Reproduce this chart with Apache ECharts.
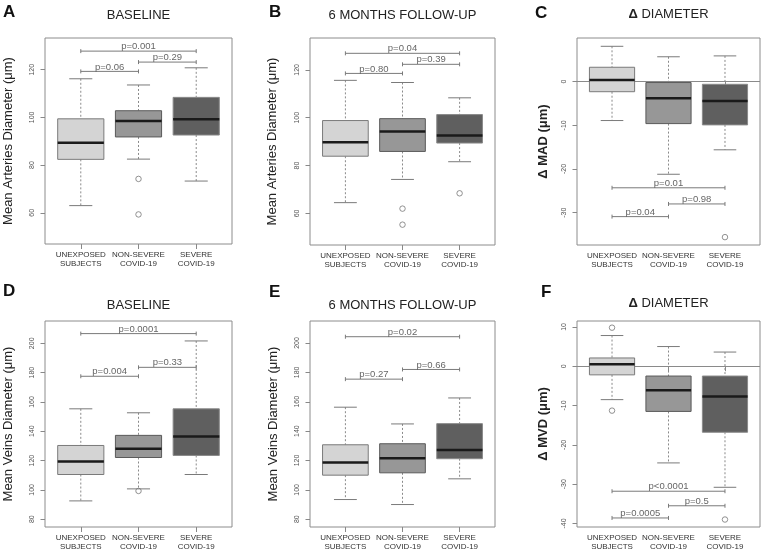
<!DOCTYPE html>
<html>
<head>
<meta charset="utf-8">
<script src="https://cdn.jsdelivr.net/npm/echarts@6/dist/echarts.min.js"></script>
<style>html,body{margin:0;padding:0;background:#fff;}#c{width:765px;height:557px;}</style>
</head>
<body>
<div id="c"></div>
<script>
// ---------- data ----------
const categories = ['UNEXPOSED\nSUBJECTS', 'NON-SEVERE\nCOVID-19', 'SEVERE\nCOVID-19'];
const panelLetters = ['A', 'B', 'C', 'D', 'E', 'F'];
const panelTitles = ['BASELINE', '6 MONTHS FOLLOW-UP', '{d|Δ} DIAMETER', 'BASELINE', '6 MONTHS FOLLOW-UP', '{d|Δ} DIAMETER'];
const yNames = ['Mean Arteries Diameter (μm)', 'Mean Arteries Diameter (μm)', 'Δ MAD (μm)',
                'Mean Veins Diameter (μm)', 'Mean Veins Diameter (μm)', 'Δ MVD (μm)'];

// box stats: [group, lower whisker, Q1, median, Q3, upper whisker]
const boxA = [[1, 63.0, 82.4, 89.4, 99.4, 116.2], [2, 82.5, 91.8, 98.5, 102.8, 113.6], [3, 73.3, 92.6, 99.2, 108.4, 120.8]];
const boxB = [[1, 64.5, 83.9, 89.7, 98.8, 115.6], [2, 74.2, 85.9, 94.2, 99.6, 114.7], [3, 81.6, 89.4, 92.6, 101.3, 108.3]];
const boxC = [[1, -8.9, -2.3, 0.4, 3.3, 8.1], [2, -21.2, -9.6, -3.8, -0.2, 5.7], [3, -15.6, -9.9, -4.4, -0.6, 5.9]];
const boxD = [[1, 92.5, 110.5, 119.4, 130.3, 155.3], [2, 100.7, 122.1, 128.0, 137.2, 152.6], [3, 110.5, 123.5, 136.5, 155.3, 201.6]];
const boxE = [[1, 93.4, 110.0, 118.7, 130.7, 156.3], [2, 90.0, 111.6, 121.5, 131.4, 144.9], [3, 107.5, 121.2, 127.1, 145.1, 162.6]];
const boxF = [[1, -8.5, -2.2, 0.5, 2.1, 7.8], [2, -24.6, -11.5, -6.1, -2.5, 5.0], [3, -30.8, -16.8, -7.7, -2.5, 3.6]];

// outliers: [group, value]
const outA = [[2, 74.2], [2, 59.3]];
const outB = [[2, 62.0], [2, 55.3], [3, 68.4]];
const outC = [[3, -35.6]];
const outD = [[2, 99.3]];
const outE = [];
const outF = [[1, 9.8], [1, -11.3], [3, -39.0]];

// p-value brackets: [from group, to group, height]
const brA = [[1, 3, 127.8], [2, 3, 123.2], [1, 2, 119.3]];
const brB = [[1, 3, 126.9], [2, 3, 122.3], [1, 2, 118.5]];
const brC = [[1, 3, -24.3], [2, 3, -28.0], [1, 2, -30.9]];
const brD = [[1, 3, 206.6], [2, 3, 183.6], [1, 2, 177.5]];
const brE = [[1, 3, 204.3], [2, 3, 182.0], [1, 2, 175.4]];
const brF = [[1, 3, -31.8], [2, 3, -35.5], [1, 2, -38.6]];
const pLabA = ['p=0.001', 'p=0.29', 'p=0.06'];
const pLabB = ['p=0.04', 'p=0.39', 'p=0.80'];
const pLabC = ['p=0.01', 'p=0.98', 'p=0.04'];
const pLabD = ['p=0.0001', 'p=0.33', 'p=0.004'];
const pLabE = ['p=0.02', 'p=0.66', 'p=0.27'];
const pLabF = ['p<0.0001', 'p=0.5', 'p=0.0005'];

// y axis ranges and ticks
const yRanges = [[46.9, 133.3], [46.8, 133.3], [-37.4, 10.0], [74.7, 215.2], [74.7, 215.0], [-40.9, 11.5]];
const yTicksA = [60, 80, 100, 120];
const yTicksC = [-30, -20, -10, 0];
const yTicksD = [80, 100, 120, 140, 160, 180, 200];
const yTicksF = [-40, -30, -20, -10, 0, 10];
const xTicks = [1, 2, 3];

// ---------- layout / style ----------
const boxes = [boxA, boxB, boxC, boxD, boxE, boxF];
const outs = [outA, outB, outC, outD, outE, outF];
const brs = [brA, brB, brC, brD, brE, brF];
const pLabs = [pLabA, pLabB, pLabC, pLabD, pLabE, pLabF];
const yTicks = [yTicksA, yTicksA, yTicksC, yTicksD, yTicksD, yTicksF];
const zeroLine = [false, false, true, false, false, true];

const gridPos = [
  {left: 45, top: 38, width: 187, height: 206},
  {left: 310, top: 38, width: 185, height: 207},
  {left: 577, top: 38, width: 183, height: 207},
  {left: 45, top: 321, width: 187, height: 206},
  {left: 310, top: 321, width: 185, height: 206},
  {left: 577, top: 321, width: 183, height: 206}
];
const letterPos = [[3, 12], [269, 12], [535, 13], [3, 291], [269, 292], [541, 292]];
const titleY = [15, 15, 14, 305, 305.5, 303];
const nameGaps = [30, 31, 27, 30, 30, 27];

const FONT = '"Liberation Sans", Arial, Helvetica, sans-serif';
const boxFills = ['#d4d4d4', '#979797', '#5f5f5f'];
const boxBorders = ['#7a7a7a', '#5a5a5a', '#8a8a8a'];
const whiskerColor = '#8a8a8a';
const capColor = '#7a7a7a';
const frameColor = '#8c8c8c';

function makeBoxRender() {
  return function (params, api) {
    const x = api.value(0);
    const lo = api.value(1), q1 = api.value(2), md = api.value(3), q3 = api.value(4), hi = api.value(5);
    const P = (a, b) => api.coord([a, b]);
    const a = P(x, hi), b = P(x, q3), c = P(x, q1), d = P(x, lo);
    const l = P(x - 0.4, q3), r = P(x + 0.4, q1);
    const cl = P(x - 0.2, hi)[0], cr = P(x + 0.2, hi)[0];
    const ml = P(x - 0.4, md), mr = P(x + 0.4, md);
    const dash = {stroke: whiskerColor, lineWidth: 1, lineDash: [2, 2]};
    const cap = {stroke: capColor, lineWidth: 1};
    return {
      type: 'group',
      children: [
        {type: 'line', shape: {x1: a[0], y1: a[1], x2: b[0], y2: b[1]}, style: dash},
        {type: 'line', shape: {x1: c[0], y1: c[1], x2: d[0], y2: d[1]}, style: dash},
        {type: 'line', shape: {x1: cl, y1: a[1], x2: cr, y2: a[1]}, style: cap},
        {type: 'line', shape: {x1: cl, y1: d[1], x2: cr, y2: d[1]}, style: cap},
        {type: 'rect', shape: {x: l[0], y: l[1], width: r[0] - l[0], height: r[1] - l[1]},
          style: {fill: boxFills[x - 1], stroke: boxBorders[x - 1], lineWidth: 1}},
        {type: 'line', shape: {x1: ml[0], y1: ml[1], x2: mr[0], y2: mr[1]}, style: {stroke: '#1a1a1a', lineWidth: 2.5}}
      ]
    };
  };
}

function makeBracketRender(labels) {
  return function (params, api) {
    const x1 = api.value(0), x2 = api.value(1), y = api.value(2);
    const p1 = api.coord([x1, y]), p2 = api.coord([x2, y]);
    const st = {stroke: '#7a7a7a', lineWidth: 1};
    return {
      type: 'group',
      children: [
        {type: 'line', shape: {x1: p1[0], y1: p1[1], x2: p2[0], y2: p2[1]}, style: st},
        {type: 'line', shape: {x1: p1[0], y1: p1[1] - 2, x2: p1[0], y2: p1[1] + 2}, style: st},
        {type: 'line', shape: {x1: p2[0], y1: p2[1] - 2, x2: p2[0], y2: p2[1] + 2}, style: st},
        {type: 'text', style: {text: labels[params.dataIndex], x: (p1[0] + p2[0]) / 2, y: p1[1] - 4.5,
          fill: '#666', font: '9.5px ' + FONT, align: 'center', verticalAlign: 'middle',
          textAlign: 'center', textVerticalAlign: 'middle'}}
      ]
    };
  };
}

const grid = [], xAxis = [], yAxis = [], series = [], graphic = [];
for (let i = 0; i < 6; i++) {
  grid.push(Object.assign({show: true, borderColor: frameColor, borderWidth: 1, backgroundColor: 'transparent'}, gridPos[i]));
  xAxis.push({
    gridIndex: i, type: 'value', min: 0.38, max: 3.62,
    axisLine: {show: false}, splitLine: {show: false},
    axisTick: {show: true, customValues: xTicks, length: 5, lineStyle: {color: '#888'}},
    axisLabel: {customValues: xTicks, formatter: v => categories[Math.round(v) - 1] || '',
      fontSize: 8, lineHeight: 9.5, color: '#333', margin: 6, fontFamily: FONT}
  });
  yAxis.push({
    gridIndex: i, type: 'value', min: yRanges[i][0], max: yRanges[i][1],
    axisLine: {show: false}, splitLine: {show: false},
    axisTick: {show: true, customValues: yTicks[i], length: 4.5, lineStyle: {color: '#888'}},
    axisLabel: {customValues: yTicks[i], rotate: 90, fontSize: 7, color: '#555', margin: 9, fontFamily: FONT},
    name: yNames[i], nameLocation: 'middle', nameRotate: 90, nameGap: nameGaps[i],
    nameTextStyle: {fontSize: 13, color: '#222', fontFamily: FONT, fontWeight: (i === 2 || i === 5) ? 'bold' : 'normal'}
  });
  series.push({
    type: 'scatter', xAxisIndex: i, yAxisIndex: i, data: outs[i], symbol: 'circle', symbolSize: 5.5,
    itemStyle: {color: 'rgba(0,0,0,0)', borderColor: '#777', borderWidth: 1}, z: 1, silent: true,
    markLine: zeroLine[i] ? {silent: true, symbol: 'none', label: {show: false},
      lineStyle: {color: '#8a8a8a', type: 'solid', width: 1}, data: [{yAxis: 0}], z: 0} : undefined
  });
  series.push({
    type: 'custom', xAxisIndex: i, yAxisIndex: i, data: boxes[i], renderItem: makeBoxRender(),
    encode: {x: 0, y: [1, 2, 3, 4, 5]}, z: 2, silent: true
  });
  series.push({
    type: 'custom', xAxisIndex: i, yAxisIndex: i, data: brs[i], renderItem: makeBracketRender(pLabs[i]),
    encode: {x: [0, 1], y: 2}, z: 3, silent: true
  });
  const g = gridPos[i];
  graphic.push({type: 'text', x: letterPos[i][0], y: letterPos[i][1],
    style: {text: panelLetters[i], font: 'bold 17px ' + FONT, fill: '#111', align: 'left', verticalAlign: 'middle'}});
  graphic.push({type: 'text', x: g.left + g.width / 2, y: titleY[i],
    style: {text: panelTitles[i], font: '13px ' + FONT, fill: '#222', align: 'center', verticalAlign: 'middle',
      rich: {d: {fontWeight: 'bold', fontSize: 13, fontFamily: FONT, fill: '#222'}}}});
}

const chart = echarts.init(document.getElementById('c'), null, {renderer: 'canvas'});
chart.setOption({animation: false, backgroundColor: '#fff', grid, xAxis, yAxis, series, graphic});
</script>
</body>
</html>
